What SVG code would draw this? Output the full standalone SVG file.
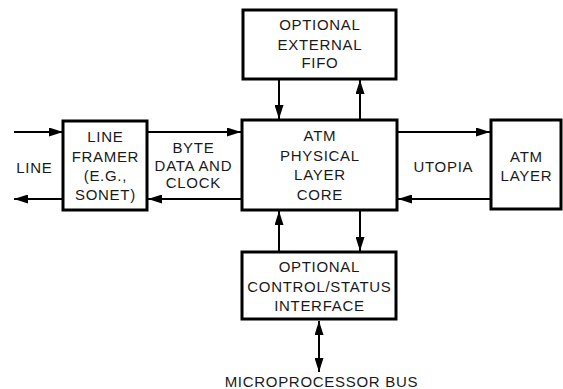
<svg xmlns="http://www.w3.org/2000/svg" width="563" height="389" viewBox="0 0 563 389">
<defs>
<marker id="ah" viewBox="0 0 14 9" refX="14" refY="4.5" markerWidth="14" markerHeight="9" markerUnits="userSpaceOnUse" orient="auto-start-reverse">
<path d="M0,0 L14,4.5 L0,9 Z" fill="#000"/>
</marker>
<style>
.box{fill:#fff;stroke:#000;stroke-width:3}
.t{font-family:"Liberation Sans",Arial,sans-serif;font-size:15px;letter-spacing:0.7px;fill:#1a1a1a;text-anchor:middle}
.c{stroke:#000;stroke-width:2;fill:none;marker-end:url(#ah)}
.b{stroke:#000;stroke-width:2;fill:none;marker-end:url(#ah);marker-start:url(#ah)}
</style>
</defs>
<rect width="563" height="389" fill="#fff"/>
<g id="connectors">
<line class="c" x1="14" y1="132" x2="63" y2="132"/>
<line class="c" x1="63" y1="199" x2="14" y2="199"/>
<line class="c" x1="147" y1="132" x2="241" y2="132"/>
<line class="c" x1="242" y1="199" x2="148" y2="199"/>
<line class="c" x1="397" y1="132" x2="490" y2="132"/>
<line class="c" x1="491" y1="199" x2="398" y2="199"/>
<line class="c" x1="279" y1="79" x2="279" y2="119"/>
<line class="c" x1="360" y1="120" x2="360" y2="80"/>
<line class="c" x1="279" y1="252" x2="279" y2="211"/>
<line class="c" x1="360" y1="210" x2="360" y2="251"/>
<line class="b" x1="319" y1="321" x2="319" y2="372"/>
</g>
<g id="framer">
<rect class="box" x="63" y="121" width="84" height="89"/>
<text class="t" x="105.4" y="142">LINE</text>
<text class="t" x="105.4" y="162">FRAMER</text>
<text class="t" x="105.4" y="181">(E.G.,</text>
<text class="t" x="105.4" y="200">SONET)</text>
</g>
<g id="core">
<rect class="box" x="242" y="120" width="155" height="90"/>
<text class="t" x="319.9" y="141">ATM</text>
<text class="t" x="319.9" y="160.5">PHYSICAL</text>
<text class="t" x="319.9" y="180">LAYER</text>
<text class="t" x="319.9" y="200">CORE</text>
</g>
<g id="fifo">
<rect class="box" x="243" y="10" width="153" height="69"/>
<text class="t" x="319.9" y="30">OPTIONAL</text>
<text class="t" x="319.9" y="49.5">EXTERNAL</text>
<text class="t" x="319.9" y="68">FIFO</text>
</g>
<g id="control">
<rect class="box" x="242" y="252" width="154" height="67"/>
<text class="t" x="319.4" y="272">OPTIONAL</text>
<text class="t" x="319.4" y="291.5">CONTROL/STATUS</text>
<text class="t" x="319.4" y="311">INTERFACE</text>
</g>
<g id="atmlayer">
<rect class="box" x="491" y="120" width="70" height="89"/>
<text class="t" x="526.4" y="162">ATM</text>
<text class="t" x="526.4" y="181">LAYER</text>
</g>
<g id="labels">
<text class="t" x="34.4" y="173">LINE</text>
<text class="t" x="193.4" y="153">BYTE</text>
<text class="t" x="193.4" y="170.5">DATA AND</text>
<text class="t" x="193.4" y="187.5">CLOCK</text>
<text class="t" x="443.4" y="172">UTOPIA</text>
<text class="t" x="321.4" y="386.5">MICROPROCESSOR BUS</text>
</g>
</svg>
